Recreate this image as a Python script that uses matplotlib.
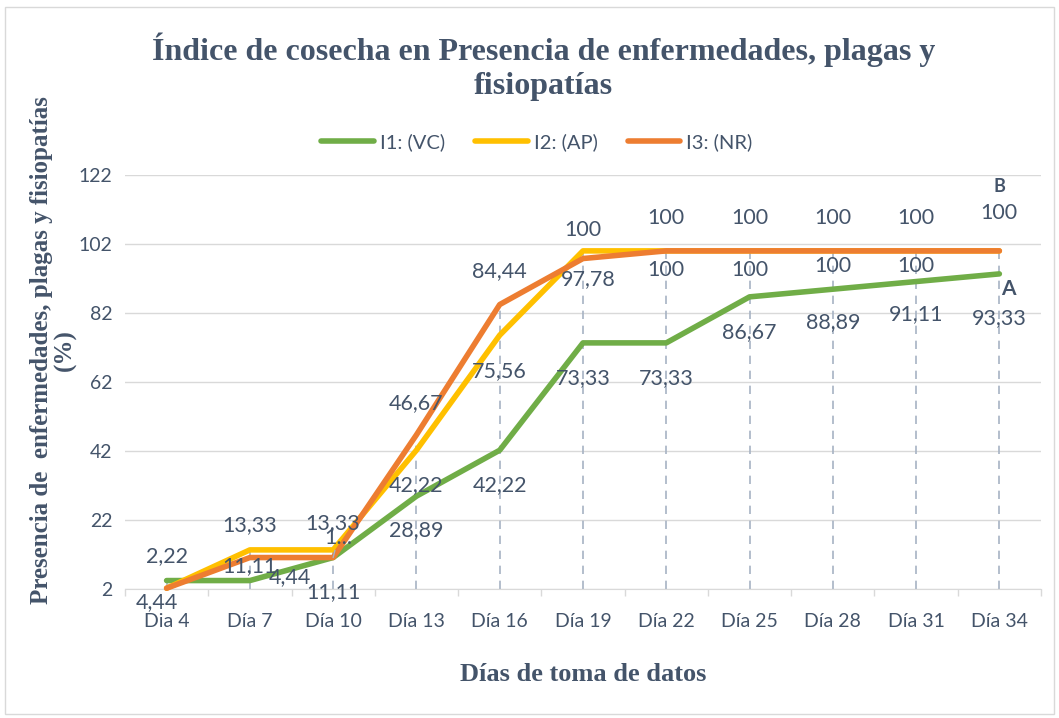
import matplotlib
matplotlib.use("Agg")
import matplotlib.pyplot as plt
from matplotlib.patches import Rectangle

# data
dias = ["Dia 4", "Día 7", "Día 10", "Día 13", "Día 16", "Día 19",
        "Día 22", "Día 25", "Día 28", "Día 31", "Día 34"]
i1_vc = [4.44, 4.44, 11.11, 28.89, 42.22, 73.33, 73.33, 86.67, 88.89, 91.11, 93.33]
i2_ap = [2.22, 13.33, 13.33, 42.22, 75.56, 100, 100, 100, 100, 100, 100]
i3_nr = [2.22, 11.11, 11.11, 46.67, 84.44, 97.78, 100, 100, 100, 100, 100]
y_ticks = [2, 22, 42, 62, 82, 102, 122]

TXT = "#44546A"
serif = "Liberation Serif"
sans = "Lato"

fig = plt.figure(figsize=(10.59, 7.18), dpi=100)
ax = fig.add_axes([0.118, 0.1797, 0.865, 0.5766])

x = list(range(len(dias)))

# grid + drop lines
for yt in y_ticks:
    ax.axhline(yt, color="#D9D9D9", lw=1, zorder=0)
tops = [max(a, b, c) for a, b, c in zip(i1_vc, i2_ap, i3_nr)]
ax.vlines(x, 2, tops, colors="#A7B3C4", linestyles=(0, (5, 4)), lw=1.2, zorder=1)

series = [("I1: (VC)", i1_vc, "#70AD47"),
          ("I2: (AP)", i2_ap, "#FFC000"),
          ("I3: (NR)", i3_nr, "#ED7D31")]
for name, vals, col in series:
    ax.plot(x, vals, color=col, lw=4, solid_capstyle="round",
            solid_joinstyle="round", label=name, zorder=3, clip_on=False)

# label offsets in pixels (None = no label)
off_i1 = [(-10, -22), (40, 3), (0, -35), (0, -34), (0, -35), (0, -35),
          (0, -35), (0, -35), (0, -33), (0, -33), (0, -44)]
off_i2 = [(0, 32), (0, 25), (0, 27), (0, -35), (0, -36), (0, 21),
          (0, 33), (0, 33), (0, 33), (0, 33), (0, 38)]
off_i3 = [None, (0, -9), None, (0, 32), (0, 33), (5, -21),
          (0, -19), (0, -19), (0, -15), (0, -15), None]


def fmt(v):
    return f"{v:g}".replace(".", ",")


for vals, offs in [(i1_vc, off_i1), (i2_ap, off_i2), (i3_nr, off_i3)]:
    for xi, v, o in zip(x, vals, offs):
        if o is None:
            continue
        ax.annotate(fmt(v), (xi, v), xytext=o, textcoords="offset pixels",
                    ha="center", va="center", fontsize=15.5, color=TXT,
                    family=sans, zorder=5, annotation_clip=False)

# truncated label with leader line at Día 10 (I3)
ax.annotate("1...", (2, i3_nr[2]), xytext=(5, 20), textcoords="offset pixels",
            ha="center", va="center", fontsize=15.5, color=TXT, family=sans,
            zorder=5,
            arrowprops=dict(arrowstyle="-", color="#A7B3C4", lw=1,
                            shrinkA=7, shrinkB=8))

ax.annotate("A", (10, i1_vc[-1]), xytext=(9, -15), textcoords="offset pixels",
            ha="center", va="center", fontsize=15, fontweight="bold",
            color=TXT, family=sans, annotation_clip=False)
ax.annotate("B", (10, i2_ap[-1]), xytext=(0, 64), textcoords="offset pixels",
            ha="center", va="center", fontsize=13, fontweight="bold",
            color=TXT, family=sans, annotation_clip=False)

ax.set_xlim(-0.5, len(dias) - 0.5)
ax.set_ylim(2, 122)
ax.set_yticks(y_ticks)
ax.set_xticks(x)
ax.set_xticklabels(dias)
ax.set_xticks([i - 0.5 for i in range(len(dias) + 1)], minor=True)
ax.tick_params(axis="x", which="major", length=0, pad=17, labelsize=14,
               labelcolor=TXT)
ax.tick_params(axis="x", which="minor", length=5, color="#D9D9D9", width=1)
ax.tick_params(axis="y", length=0, pad=9, labelsize=14, labelcolor=TXT)
for lab in ax.get_xticklabels() + ax.get_yticklabels():
    lab.set_family(sans)

for s in ["top", "right", "left"]:
    ax.spines[s].set_visible(False)
ax.spines["bottom"].set_color("#D9D9D9")

ax.set_xlabel("Días de toma de datos", fontsize=19, fontweight="bold",
              family=serif, color=TXT, labelpad=24)
ax.set_ylabel("Presencia de  enfermedades, plagas y fisiopatías\n(%)",
              fontsize=18, fontweight="bold", family=serif, color=TXT,
              linespacing=1.0)
ax.yaxis.set_label_coords(-0.053, 0.577)

fig.text(0.513, 0.907, "Índice de cosecha en Presencia de enfermedades, plagas y\nfisiopatías",
         ha="center", va="center", fontsize=23, fontweight="bold",
         family=serif, color=TXT, linespacing=1.25)

leg = fig.legend(loc="center", bbox_to_anchor=(0.507, 0.802), ncol=3,
                 frameon=False, handlelength=2.6, columnspacing=1.5,
                 handletextpad=0.3, prop={"family": sans, "size": 14.5})
for t in leg.get_texts():
    t.set_color(TXT)

fig.patches.append(Rectangle((0.005, 0.006), 0.99, 0.984, transform=fig.transFigure,
                             fill=False, edgecolor="#D9D9D9", lw=1))

fig.savefig("out.png", dpi=100)
